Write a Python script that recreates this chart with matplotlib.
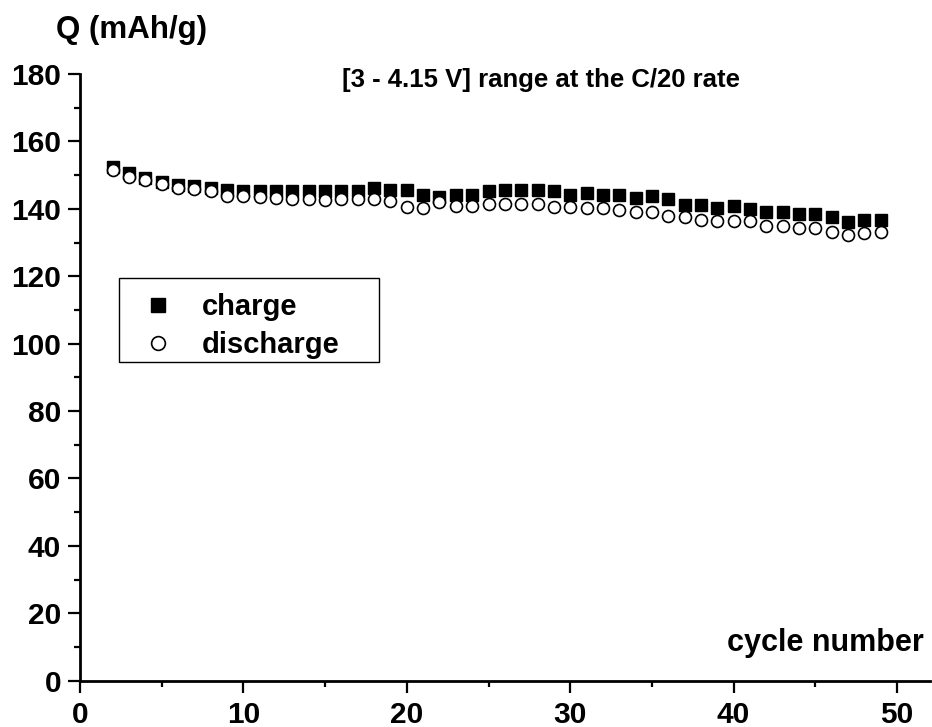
import matplotlib
matplotlib.use("Agg")
import matplotlib.pyplot as plt
from matplotlib.ticker import MultipleLocator
from matplotlib.patches import Rectangle

plt.rcParams['font.family'] = ['Liberation Sans', 'DejaVu Sans']
plt.rcParams['font.weight'] = 'bold'

cycles = list(range(2, 50))
charge = [152.3, 150.6, 149.1, 148.0, 147.2, 146.7, 146.2, 145.7,
          145.3, 145.3, 145.3, 145.3, 145.3, 145.3, 145.3, 145.3,
          146.3, 145.7, 145.7, 144.1, 143.6, 144.2, 144.2, 145.2,
          145.7, 145.7, 145.7, 145.2, 144.2, 144.7, 144.2, 144.2,
          143.3, 143.8, 142.8, 141.2, 141.2, 140.3, 140.8, 139.9,
          139.0, 139.0, 138.5, 138.5, 137.5, 136.1, 136.6, 136.6]
discharge = [151.5, 149.5, 148.5, 147.3, 146.3, 145.9, 145.4, 143.9,
             143.8, 143.6, 143.3, 143.0, 143.0, 142.6, 142.9, 143.0,
             142.8, 142.2, 140.6, 140.1, 141.9, 140.8, 140.8, 141.4,
             141.4, 141.4, 141.4, 140.4, 140.4, 140.1, 140.1, 139.6,
             139.0, 139.0, 138.0, 137.5, 136.7, 136.5, 136.3, 136.3,
             134.8, 134.8, 134.3, 134.3, 133.0, 132.3, 132.7, 133.2]

W, H = 932, 727
# axes box in pixels
AX_L, AX_R, AX_T, AX_B = 80, 929.7, 74, 680.7
fig = plt.figure(figsize=(W / 100, H / 100), dpi=100)
ax = fig.add_axes([AX_L / W, (H - AX_B) / H, (AX_R - AX_L) / W, (AX_B - AX_T) / H])

def ax_frac(px, py):
    return (px - AX_L) / (AX_R - AX_L), (AX_B - py) / (AX_B - AX_T)

ax.plot(cycles, charge, 's', color='black', markersize=8.6, label='charge')
ax.plot(cycles, discharge, 'o', markerfacecolor='white', markeredgecolor='black',
        markeredgewidth=1.2, markersize=8.6, label='discharge')

ax.set_xlim(0, 52)
ax.set_ylim(0, 180)
ax.xaxis.set_major_locator(MultipleLocator(10))
ax.xaxis.set_minor_locator(MultipleLocator(5))
ax.yaxis.set_major_locator(MultipleLocator(20))
ax.yaxis.set_minor_locator(MultipleLocator(10))

for s in ['top', 'right']:
    ax.spines[s].set_visible(False)
for s in ['left', 'bottom']:
    ax.spines[s].set_linewidth(2)
ax.tick_params(which='major', direction='out', length=8.5, width=1.6, labelsize=21.5, pad=5)
ax.tick_params(which='minor', direction='out', length=4, width=1.6)
ax.tick_params(axis='x', which='major', pad=6)
for lab in ax.get_xticklabels() + ax.get_yticklabels():
    lab.set_fontweight('bold')

fig.text(131.5 / W, 1 - 30 / H, 'Q (mAh/g)', fontsize=22.5, fontweight='bold',
         ha='center', va='center')
fig.text(540.5 / W, 1 - 80 / H, '[3 - 4.15 V] range at the C/20 rate', fontsize=18.5,
         fontweight='bold', ha='center', va='center')
fig.text(924 / W, 1 - 643 / H, 'cycle number', fontsize=22, fontweight='bold',
         ha='right', va='center')

leg = ax.legend(loc='upper left', bbox_to_anchor=ax_frac(143.4, 293),
                borderaxespad=0, frameon=False, prop={'size': 21, 'weight': 'bold'},
                handlelength=1.0, handletextpad=1.0, borderpad=0, labelspacing=0.34,
                markerscale=1.15)

x0, y1 = ax_frac(119, 278)
x1, y0 = ax_frac(379, 362)
ax.add_patch(Rectangle((x0, y0), x1 - x0, y1 - y0, transform=ax.transAxes,
                       fill=False, edgecolor='black', linewidth=1, zorder=5))

fig.savefig('out.png', dpi=100)
